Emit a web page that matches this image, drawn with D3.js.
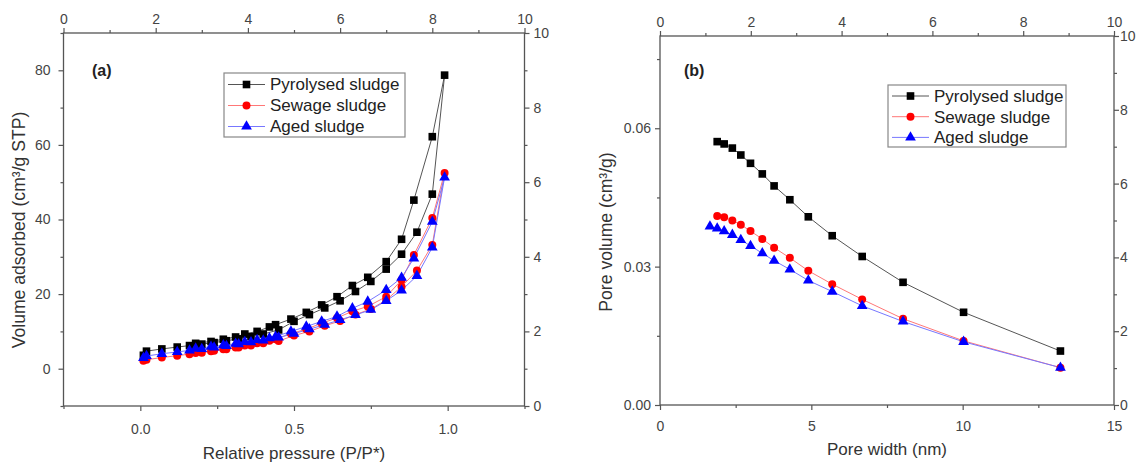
<!DOCTYPE html>
<html>
<head>
<meta charset="utf-8">
<script src="https://cdn.jsdelivr.net/npm/d3@7"></script>
<style>
  html, body { margin: 0; padding: 0; background: #fff; }
  svg { display: block; font-family: "Liberation Sans", Arial, sans-serif; }
</style>
</head>
<body>
<svg id="chart" width="1136" height="463"></svg>
<script>
// ---- (a) N2 adsorption / desorption isotherms ----
const adsPressure = [0.01, 0.02, 0.07, 0.12, 0.16, 0.20, 0.24, 0.28, 0.32, 0.36, 0.40, 0.45, 0.50, 0.55, 0.60, 0.65, 0.70, 0.75, 0.80, 0.85, 0.90, 0.95, 0.99];
const desPressure = [0.95, 0.89, 0.85, 0.80, 0.74, 0.69, 0.64, 0.59, 0.54, 0.49, 0.44, 0.42, 0.38, 0.34, 0.31, 0.27, 0.23, 0.18];

const pyrolysedAds = [3.6, 4.7, 5.3, 5.8, 6.2, 6.6, 7.0, 7.5, 8.0, 8.6, 9.3, 10.4, 12.7, 14.5, 16.3, 18.2, 20.7, 23.4, 26.7, 30.7, 36.6, 46.8, 78.7];
const pyrolysedDes = [62.2, 45.2, 34.7, 28.7, 24.5, 22.3, 19.3, 17.1, 15.1, 13.3, 11.8, 11.2, 10.0, 9.3, 8.5, 7.9, 7.3, 6.8];
const sewageAds = [2.1, 2.4, 3.0, 3.5, 3.9, 4.3, 4.8, 5.2, 5.7, 6.2, 6.8, 7.4, 8.9, 10.0, 11.5, 12.8, 14.5, 16.0, 18.4, 22.0, 26.3, 33.2, 52.5];
const sewageDes = [40.4, 30.5, 23.8, 19.3, 16.7, 15.4, 13.6, 12.2, 10.6, 9.4, 7.9, 7.5, 6.8, 6.2, 5.7, 5.2, 4.7, 4.2];
const agedAds = [2.9, 3.4, 4.0, 4.5, 4.9, 5.3, 5.7, 6.1, 6.6, 7.1, 7.6, 8.4, 9.4, 10.6, 11.8, 13.1, 14.4, 15.8, 18.2, 21.0, 24.9, 32.5, 51.3];
const agedDes = [39.4, 29.6, 24.4, 21.1, 18.0, 16.2, 14.0, 12.7, 11.3, 10.0, 8.6, 8.2, 7.7, 7.2, 6.7, 6.3, 5.9, 5.4];

// ---- (b) pore size distribution ----
const poreWidth = [1.65, 1.89, 2.12, 2.39, 2.67, 2.99, 3.38, 3.77, 4.29, 4.90, 5.69, 6.68, 8.03, 10.03, 13.23];
const pyrolysedPore = [null, 0.0571, 0.0566, 0.0557, 0.0542, 0.0524, 0.0501, 0.0475, 0.0445, 0.0408, 0.0367, 0.0322, 0.0266, 0.0201, 0.0117];
const sewagePore = [null, 0.0410, 0.0407, 0.0400, 0.0391, 0.0377, 0.0360, 0.0341, 0.0319, 0.0291, 0.0262, 0.0229, 0.0187, 0.0139, 0.0081];
const agedPore = [0.0387, 0.0383, 0.0377, 0.0369, 0.0358, 0.0345, 0.0329, 0.0313, 0.0294, 0.0270, 0.0246, 0.0215, 0.0181, 0.0137, 0.0081];

const seriesNames = ["Pyrolysed sludge", "Sewage sludge", "Aged sludge"];

// ---- tick values ----
const aBottomMajor = [0, 0.5, 1.0], aBottomMinor = [-0.25, 0.25, 0.75, 1.25];
const aLeftMajor = [0, 20, 40, 60, 80], aLeftMinor = [-10, 10, 30, 50, 70, 90];
const bBottomMajor = [0, 5, 10, 15], bBottomMinor = [2.5, 7.5, 12.5];
const bLeftMajor = [0, 0.03, 0.06], bLeftMinor = [0.015, 0.045, 0.075];
const auxMajor = [0, 2, 4, 6, 8, 10], auxMinor = [1, 3, 5, 7, 9];

const styles = [
  { color: "#000", line: "#555", shape: d3.symbolSquare, size: 58 },
  { color: "#f00", line: "#f77", shape: d3.symbolCircle, size: 50 },
  { color: "#00f", line: "#77f", shape: d3.symbolTriangle, size: 50 }
];

const svg = d3.select("#chart");
const TICK = "#444", FRAME = "#555";

function zip(xs, ys) {
  return xs.map((x, i) => ({ x, y: ys[i] })).filter(d => d.y != null);
}

function panel(cfg) {
  const g = svg.append("g");
  const { x, y } = cfg;
  const top = d3.scaleLinear().domain([0, 10]).range(x.range());
  const right = d3.scaleLinear().domain([0, 10]).range(y.range());
  const [x0, x1] = x.range(), [y0, y1] = y.range();

  const addAxis = (gen, scale, major, minor, fmt, transform, pad) => {
    g.append("g").attr("transform", transform)
      .call(gen(scale).tickValues(minor).tickSize(3).tickFormat(""));
    g.append("g").attr("transform", transform)
      .call(gen(scale).tickValues(major).tickSize(5).tickPadding(pad).tickFormat(fmt));
    g.selectAll(".domain").remove();
  };
  addAxis(d3.axisBottom, x, cfg.xMajor, cfg.xMinor, cfg.xFmt, `translate(0,${y0})`, cfg.pads[0]);
  addAxis(d3.axisLeft, y, cfg.yMajor, cfg.yMinor, cfg.yFmt, `translate(${x0},0)`, cfg.pads[1]);
  addAxis(d3.axisTop, top, auxMajor, auxMinor, d3.format("d"), `translate(0,${y1})`, cfg.pads[2]);
  addAxis(d3.axisRight, right, auxMajor, auxMinor, d3.format("d"), `translate(${x1},0)`, cfg.pads[3]);

  g.selectAll(".tick line").attr("stroke", FRAME).attr("stroke-width", 1.2);
  g.selectAll(".tick text").attr("fill", TICK).attr("font-size", 14)
    .attr("font-family", "Liberation Sans, Arial, sans-serif");

  g.append("rect").attr("x", x0).attr("y", y1).attr("width", x1 - x0).attr("height", y0 - y1)
    .attr("fill", "none").attr("stroke", FRAME).attr("stroke-width", 1.3);

  // connecting lines, then markers on top
  const line = d3.line().x(d => x(d.x)).y(d => y(d.y));
  cfg.series.forEach((pts, i) => {
    g.append("path").datum(pts).attr("d", line).attr("fill", "none")
      .attr("stroke", styles[i].line).attr("stroke-width", 1);
  });
  cfg.series.forEach((pts, i) => {
    const s = styles[i];
    g.append("g").selectAll("path").data(pts).join("path")
      .attr("transform", d => `translate(${x(d.x)},${y(d.y)})`)
      .attr("d", d3.symbol(s.shape, s.size)).attr("fill", s.color);
  });

  // axis titles
  g.append("text").attr("x", (x0 + x1) / 2).attr("y", cfg.xTitleY).attr("text-anchor", "middle")
    .attr("font-size", 17).attr("fill", "#333").text(cfg.xTitle);
  g.append("text").attr("transform", `translate(${cfg.yTitleX},${cfg.yTitleCY}) rotate(-90)`)
    .attr("text-anchor", "middle").attr("font-size", 17.6).attr("fill", "#333").text(cfg.yTitle);

  // panel tag
  g.append("text").attr("x", cfg.tag[0]).attr("y", cfg.tag[1]).attr("font-weight", "bold")
    .attr("font-size", 16).attr("fill", "#222").text(cfg.tag[2]);

  // legend
  const L = cfg.legend;
  g.append("rect").attr("x", L.x).attr("y", L.y).attr("width", L.w).attr("height", L.h)
    .attr("fill", "#fff").attr("stroke", "#888").attr("stroke-width", 1.2);
  seriesNames.forEach((name, i) => {
    const s = styles[i];
    const cy = L.y + L.first + i * L.step;
    g.append("line").attr("x1", L.x + 4).attr("x2", L.x + 41).attr("y1", cy).attr("y2", cy)
      .attr("stroke", s.line).attr("stroke-width", 1);
    g.append("path").attr("transform", `translate(${L.x + 22.5},${cy})`)
      .attr("d", d3.symbol(s.shape, s.size)).attr("fill", s.color);
    g.append("text").attr("x", L.x + 46).attr("y", cy).attr("dy", "0.35em")
      .attr("font-size", 17).attr("fill", "#222").text(name);
  });
}

// (a) isotherms: adsorption branch up, then desorption branch back down
const isoSeries = [
  zip(adsPressure, pyrolysedAds).concat(zip(desPressure, pyrolysedDes)),
  zip(adsPressure, sewageAds).concat(zip(desPressure, sewageDes)),
  zip(adsPressure, agedAds).concat(zip(desPressure, agedDes))
];

panel({
  x: d3.scaleLinear().domain([-0.25, 1.25]).range([63.5, 524.5]),
  y: d3.scaleLinear().domain([-10, 90]).range([406, 33]),
  xMajor: aBottomMajor, xMinor: aBottomMinor, xFmt: d3.format(".1f"),
  yMajor: aLeftMajor, yMinor: aLeftMinor, yFmt: d3.format("d"),
  pads: [13, 8, 4, 4],
  series: isoSeries,
  xTitle: "Relative pressure (P/P*)", xTitleY: 459,
  yTitle: "Volume adsorbed (cm\u00b3/g STP)", yTitleX: 25, yTitleCY: 230,
  tag: [92, 76, "(a)"],
  legend: { x: 224, y: 73, w: 181, h: 64, first: 11.5, step: 21 }
});

// (b) pore size distribution
panel({
  x: d3.scaleLinear().domain([0, 15]).range([660, 1114]),
  y: d3.scaleLinear().domain([0, 0.08]).range([405, 36]),
  xMajor: bBottomMajor, xMinor: bBottomMinor, xFmt: d3.format("d"),
  yMajor: bLeftMajor, yMinor: bLeftMinor, yFmt: d3.format(".2f"),
  pads: [11, 4, 4, 1],
  series: [zip(poreWidth, pyrolysedPore), zip(poreWidth, sewagePore), zip(poreWidth, agedPore)],
  xTitle: "Pore width (nm)", xTitleY: 455,
  yTitle: "Pore volume (cm\u00b3/g)", yTitleX: 612, yTitleCY: 232,
  tag: [684, 76, "(b)"],
  legend: { x: 888, y: 85, w: 178, h: 62, first: 11, step: 20.7 }
});
</script>
</body>
</html>
